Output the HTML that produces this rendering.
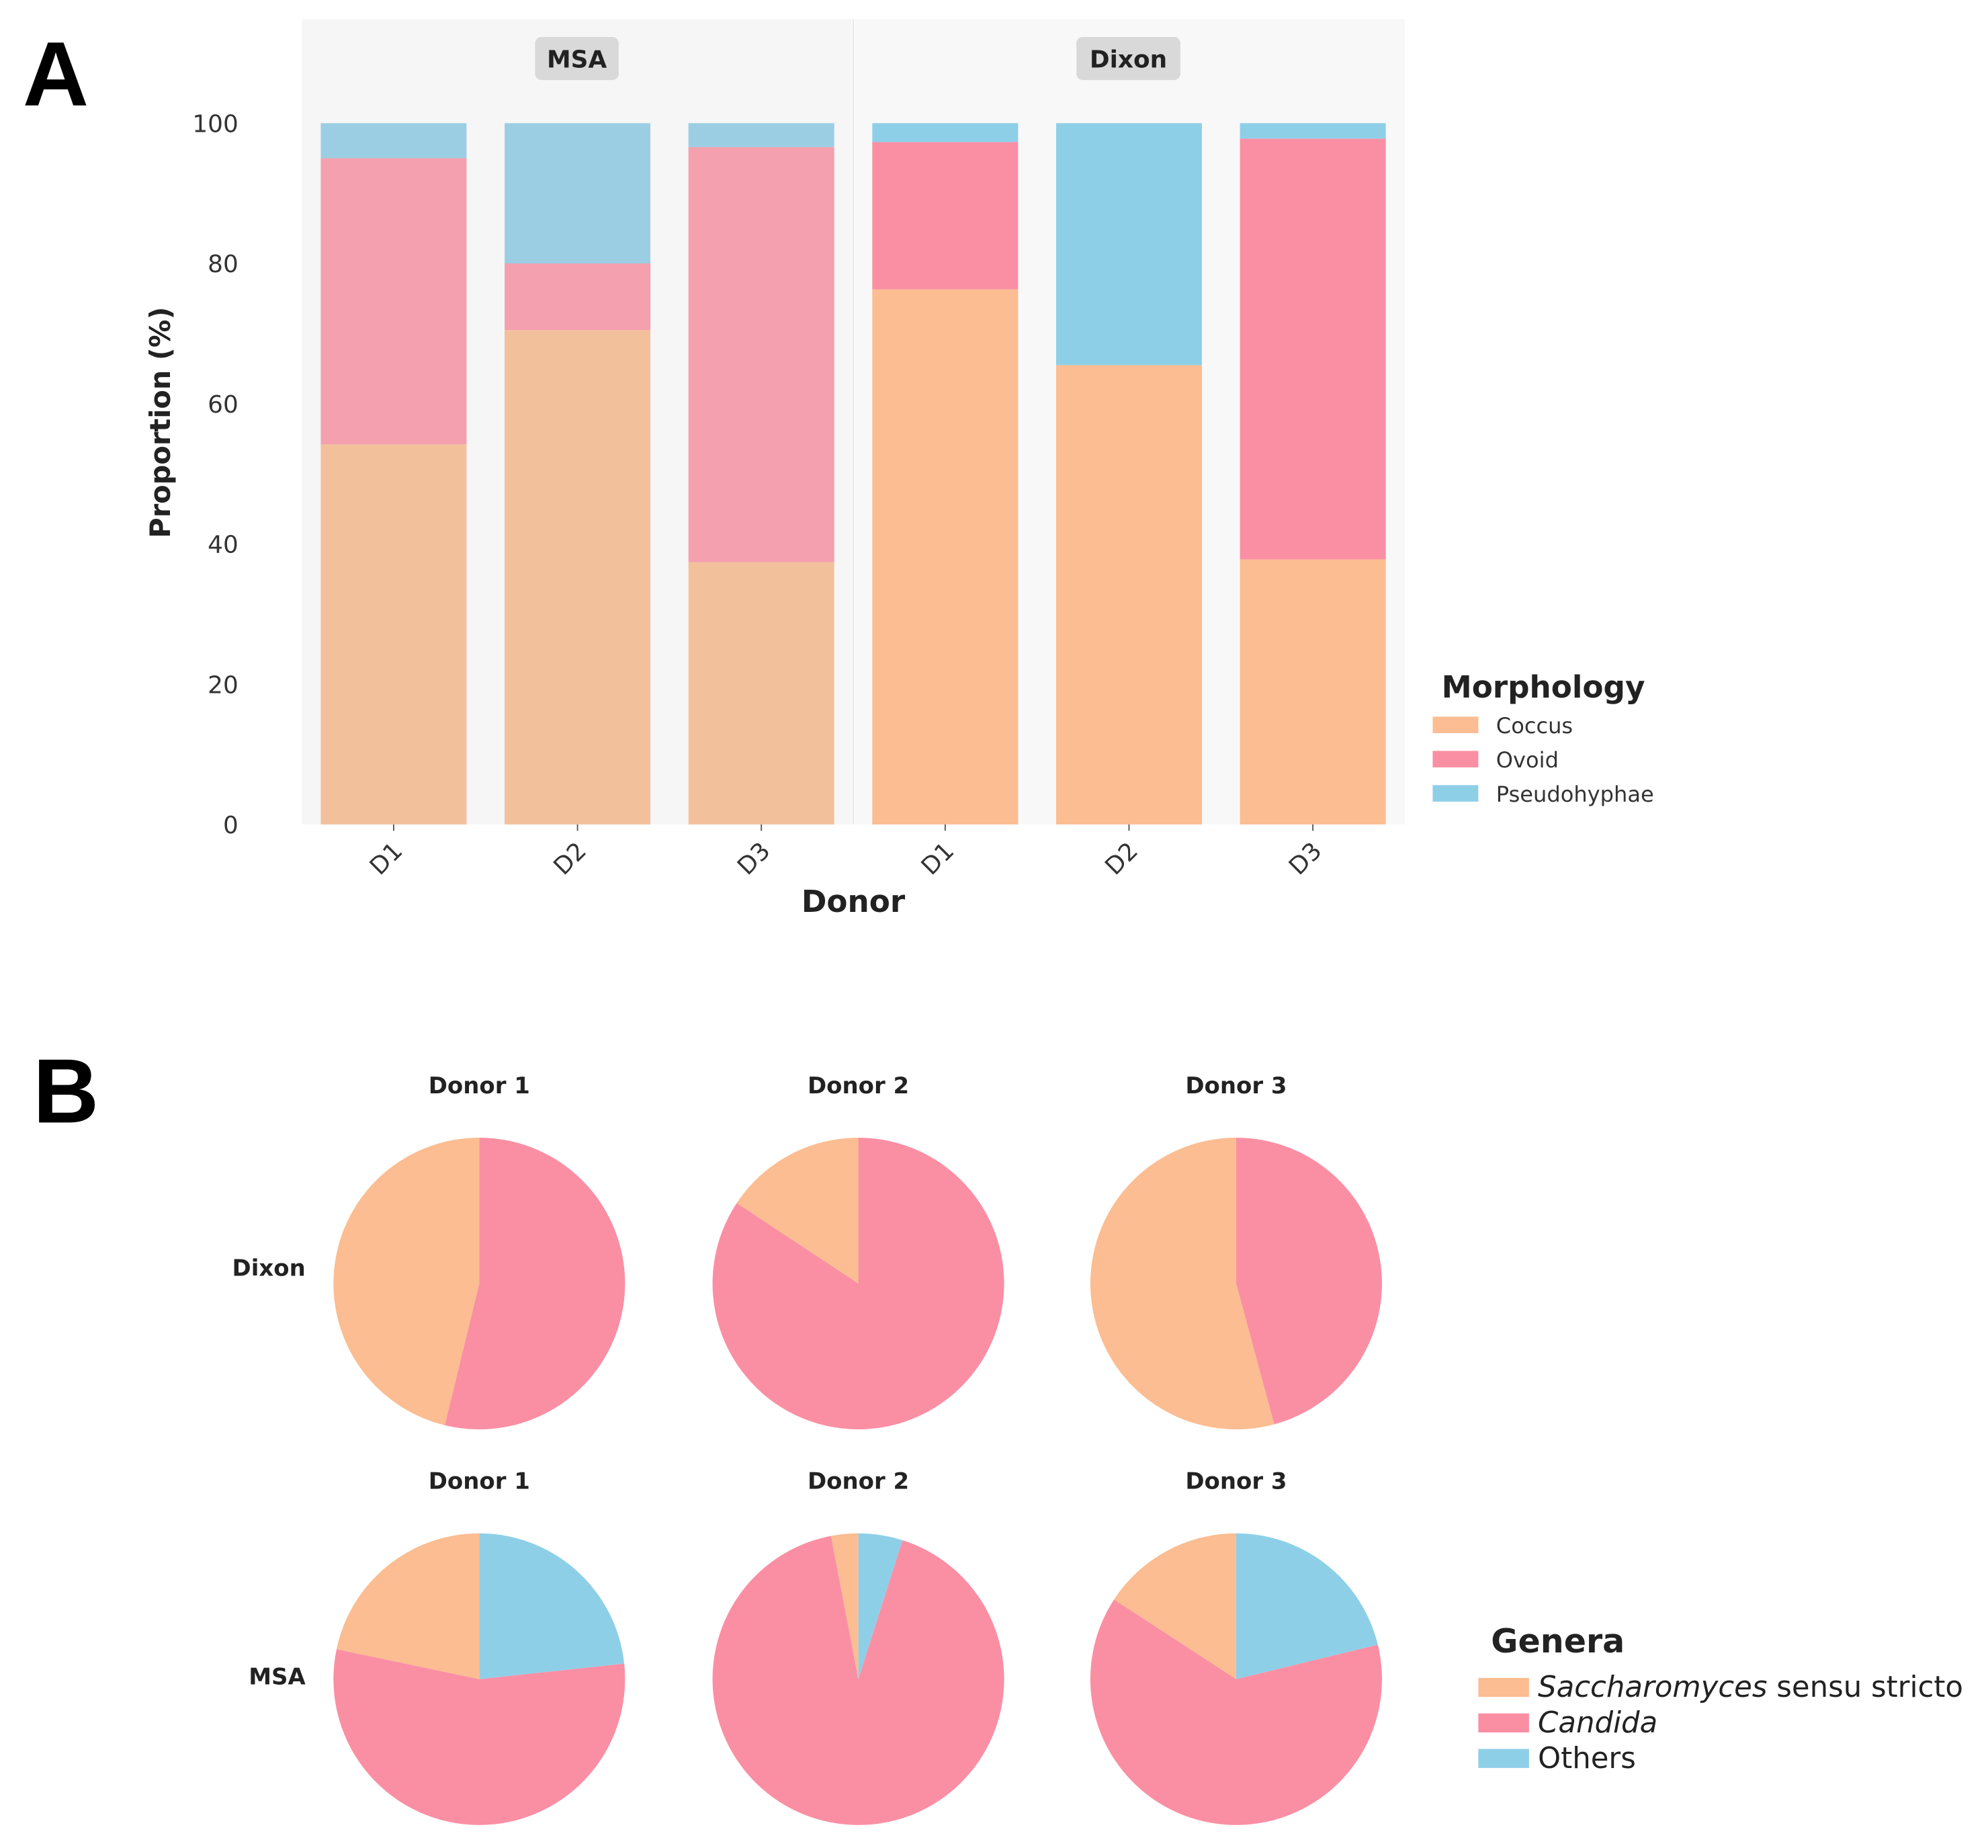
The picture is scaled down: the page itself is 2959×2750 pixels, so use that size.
<!DOCTYPE html>
<html><head><meta charset="utf-8"><style>
html,body{margin:0;padding:0;background:#fff;}
svg{display:block;font-family:"DejaVu Sans","Liberation Sans",sans-serif;}
</style></head><body>
<svg id="fig" width="2959" height="2750" viewBox="0 0 1568 1457" xmlns="http://www.w3.org/2000/svg">
<text x="18" y="83" font-size="72" font-weight="bold" font-family="Liberation Sans,sans-serif">A</text>
<text x="26" y="885" font-size="72" font-weight="bold" font-family="Liberation Sans,sans-serif">B</text>
<rect x="238" y="15" width="434" height="635" fill="#f6f6f6"/>
<rect x="674" y="15" width="434" height="635" fill="#f8f8f8"/>
<line x1="673" y1="15" x2="673" y2="650" stroke="#e6e6e6"/>
<rect x="422" y="29" width="66" height="34" rx="5" fill="#d9d9d9"/>
<text x="455" y="53" font-size="19" font-weight="bold" text-anchor="middle" fill="#222">MSA</text>
<rect x="849" y="29" width="82" height="34" rx="5" fill="#d9d9d9"/>
<text x="890" y="53" font-size="19" font-weight="bold" text-anchor="middle" fill="#222">Dixon</text>
<g id="bars"></g>
<g id="yaxis"></g>
<g id="xaxis"></g>
<text transform="translate(134,333) rotate(-90)" font-size="22" font-weight="bold" text-anchor="middle" fill="#222">Proportion (%)</text>
<text x="673" y="719" font-size="24" font-weight="bold" text-anchor="middle" fill="#222">Donor</text>
<g>
<text x="1137" y="550" font-size="24" font-weight="bold" fill="#222">Morphology</text>
<rect x="1130" y="565" width="36" height="13" fill="#fbbd91"/>
<text x="1180" y="578" font-size="17" fill="#333">Coccus</text>
<rect x="1130" y="592" width="36" height="13" fill="#fa8fa4"/>
<text x="1180" y="605" font-size="17" fill="#333">Ovoid</text>
<rect x="1130" y="619" width="36" height="13" fill="#8ecfe8"/>
<text x="1180" y="632" font-size="17" fill="#333">Pseudohyphae</text>
</g>
<g id="pies"></g>
<g>
<text x="1176" y="1303" font-size="26" font-weight="bold" fill="#222">Genera</text>
<rect x="1166" y="1323" width="40" height="15" fill="#fbbd91"/>
<text x="1213" y="1338" font-size="23" fill="#222"><tspan font-style="italic">Saccharomyces</tspan> sensu stricto</text>
<rect x="1166" y="1351" width="40" height="15" fill="#fa8fa4"/>
<text x="1213" y="1366" font-size="23" font-style="italic" fill="#222">Candida</text>
<rect x="1166" y="1379" width="40" height="15" fill="#8ecfe8"/>
<text x="1213" y="1394" font-size="23" fill="#222">Others</text>
</g>
</svg>
<script>
const NS="http://www.w3.org/2000/svg";
const barCategories=["D1","D2","D3","D1","D2","D3"];
const barMedia=["MSA","MSA","MSA","Dixon","Dixon","Dixon"];
const coccus=[54.2,70.5,37.4,76.3,65.5,37.8];
const ovoid=[40.8,9.5,59.2,21.0,0,60.0];
const pseudohyphae=[5.0,20.0,3.4,2.7,34.5,2.2];
const yTicks=[0,20,40,60,80,100];
const pieDonors=["Donor 1","Donor 2","Donor 3"];
const pieRows=["Dixon","MSA"];
// order clockwise from top: Others, Candida, Saccharomyces
const pieOthers=[[0,0,0],[23.3,4.9,21.2]];
const pieCandida=[[53.8,84.3,45.8],[55.0,92.1,63.0]];
const pieSacch=[[46.2,15.7,54.2],[21.7,3.0,15.8]];

function el(tag,attrs,parent){const e=document.createElementNS(NS,tag);for(const k in attrs)e.setAttribute(k,attrs[k]);parent.appendChild(e);return e;}
const y=v=>650-v*5.53;
const x=i=>253+i*145;
const bw=115;
const bars=document.getElementById('bars');
const pal={MSA:["#f3c09c","#f4a0ae","#9bcee3"],Dixon:["#fbbd91","#fa8fa4","#8ecfe8"]};
barCategories.forEach((c,i)=>{
  const vals=[coccus[i],ovoid[i],pseudohyphae[i]];
  const names=["coccus","ovoid","pseudohyphae"];
  let base=0;
  vals.forEach((v,j)=>{
    if(v<=0)return;
    const r=el('rect',{x:x(i),y:y(base+v),width:bw,height:y(base)-y(base+v),fill:pal[barMedia[i]][j]},bars);
    
    
    base+=v;
  });
});
const ya=document.getElementById('yaxis');
yTicks.forEach(t=>{
  const tx=el('text',{x:188,y:y(t)+7,'font-size':19,'text-anchor':'end',fill:'#333'},ya);
  tx.textContent=t;
  
  
});
const xa=document.getElementById('xaxis');
barCategories.forEach((c,i)=>{
  const cx=x(i)+bw/2;
  const tk=el('line',{x1:cx,y1:650,x2:cx,y2:655,stroke:'#555'},xa);
  
  
  const tx=el('text',{x:cx+8,y:672,'font-size':19,'text-anchor':'end',fill:'#333',transform:`rotate(-45 ${cx+8} 672)`},xa);
  tx.textContent=c;
  
  
});
const pies=document.getElementById('pies');
const pcx=[378,677,975], pcy=[1012,1324], R=115;
const rowLabelY=[1006,1328];
function pt(cx,cy,deg){const a=deg*Math.PI/180;return [cx+R*Math.sin(a),cy-R*Math.cos(a)];}
pieRows.forEach((row,ri)=>{
  const rl=el('text',{x:241,y:rowLabelY[ri],'font-size':18,'font-weight':'bold','text-anchor':'end',fill:'#222'},pies);
  rl.textContent=row;
  
  
  pieDonors.forEach((d,ci)=>{
    const cx=pcx[ci],cy=pcy[ri];
    const t=el('text',{x:cx,y:cy-150,'font-size':18,'font-weight':'bold','text-anchor':'middle',fill:'#222'},pies);
    t.textContent=d;
    
    
    const vals=[pieOthers[ri][ci],pieCandida[ri][ci],pieSacch[ri][ci]];
    const cols=["#8ecfe8","#fa8fa4","#fbbd91"];
    const names=["others","candida","saccharomyces"];
    const tot=vals.reduce((a,b)=>a+b,0);
    let start=0;
    vals.forEach((v,j)=>{
      if(v<=0)return;
      const ang=v/tot*360;
      let p;
      if(ang>=359.99){p=el('circle',{cx:cx,cy:cy,r:R,fill:cols[j]},pies);}
      else{
        const a=pt(cx,cy,start),b=pt(cx,cy,start+ang);
        p=el('path',{d:`M${cx},${cy}L${a[0]},${a[1]}A${R},${R} 0 ${ang>180?1:0} 1 ${b[0]},${b[1]}Z`,fill:cols[j]},pies);
      }
      
      
      start+=ang;
    });
  });
});
</script>
</body></html>
